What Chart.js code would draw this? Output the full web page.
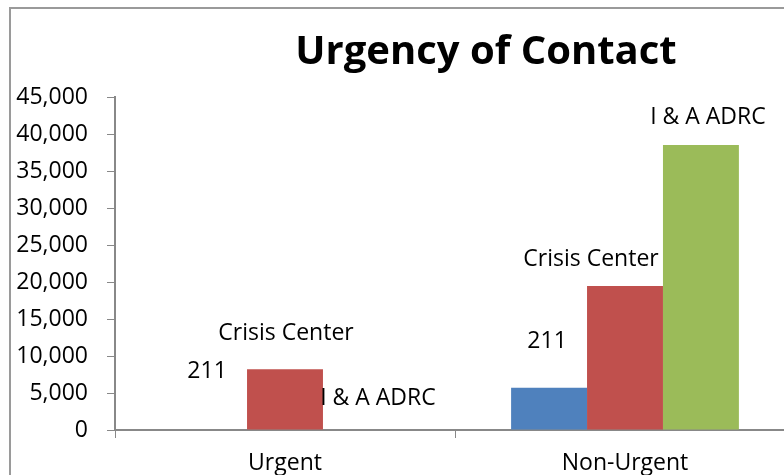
<!DOCTYPE html>
<html>
<head>
<meta charset="utf-8">
<script src="https://cdn.jsdelivr.net/npm/chart.js@4"></script>
<style>
    html, body { margin: 0; padding: 0; background: #fff; overflow: hidden; width: 784px; height: 475px; }
    #frame { position: absolute; left: 9px; top: 7px; border: 2px solid #9a9a9a; width: 950px; height: 480px; }
    canvas { display: block; }
</style>
</head>
<body>
<div id="frame"><canvas id="urgencyChart" width="950" height="480"></canvas></div>
<script>
const categories = ['Urgent', 'Non-Urgent'];
const seriesNames = ['211', 'Crisis Center', 'I & A ADRC'];
const values211 = [0, 5700];
const valuesCrisis = [8200, 19450];
const valuesAdrc = [0, 38500];
const yTicks = [0, 5000, 10000, 15000, 20000, 25000, 30000, 35000, 40000, 45000];

const font = "'Open Sans', 'Liberation Sans', sans-serif";

// series name drawn above each bar, nudged like the hand-placed Excel labels
const barNameLabels = {
    id: 'barNameLabels',
    afterDatasetsDraw(chart, args, opts) {
        const ctx = chart.ctx;
        ctx.save();
        ctx.font = `${opts.size}px ${font}`;
        ctx.fillStyle = '#000';
        ctx.textAlign = 'center';
        ctx.textBaseline = 'middle';
        chart.data.datasets.forEach((ds, i) => {
            chart.getDatasetMeta(i).data.forEach((bar, j) => {
                const off = opts.offsets[i][j];
                ctx.fillText(ds.label, bar.x + off[0], bar.y + off[1]);
            });
        });
        ctx.restore();
    }
};

const ctx = document.getElementById('urgencyChart').getContext('2d');
const urgencyChart = new Chart(ctx, {
    type: 'bar',
    data: {
        labels: categories,
        datasets: [
            { label: seriesNames[0], data: values211, backgroundColor: '#4F81BD' },
            { label: seriesNames[1], data: valuesCrisis, backgroundColor: '#C0504D' },
            { label: seriesNames[2], data: valuesAdrc, backgroundColor: '#9BBB59' }
        ]
    },
    options: {
        responsive: false,
        animation: false,
        layout: { padding: 0 },
        datasets: { bar: { barPercentage: 1, categoryPercentage: 0.67 } },
        scales: {
            x: {
                grid: { display: true, drawOnChartArea: false, offset: true, tickLength: 8, color: '#888' },
                border: { color: '#888', width: 2 },
                ticks: { color: '#000', font: { family: font, size: 23 }, padding: 12 },
                afterFit: s => { s.height = 59; }
            },
            y: {
                min: 0,
                max: 45000,
                afterBuildTicks: s => { s.ticks = yTicks.map(v => ({ value: v })); },
                grid: { display: true, drawOnChartArea: false, tickLength: 8, color: '#888' },
                border: { color: '#888', width: 2 },
                ticks: {
                    color: '#000',
                    font: { family: font, size: 23 },
                    padding: 19,
                    callback: v => v.toLocaleString('en-US')
                },
                afterFit: s => { s.width = 104; }
            },
            // empty spacer on the right so the title sits over the whole frame, not the plot
            spacer: {
                type: 'linear',
                position: 'right',
                grid: { display: false },
                border: { display: false },
                ticks: { display: false },
                afterFit: s => { s.width = 166; }
            }
        },
        plugins: {
            legend: { display: false },
            tooltip: { enabled: false },
            title: {
                display: true,
                text: 'Urgency of Contact',
                color: '#000',
                font: { family: font, size: 40, weight: 'bold' },
                padding: { top: 20, bottom: 20 }
            },
            barNameLabels: {
                size: 23,
                offsets: [
                    [[-2, -59], [-2, -46]],
                    [[1, -36], [-34, -27]],
                    [[17, -32], [7, -28]]
                ]
            }
        }
    },
    plugins: [barNameLabels]
});
</script>
</body>
</html>
